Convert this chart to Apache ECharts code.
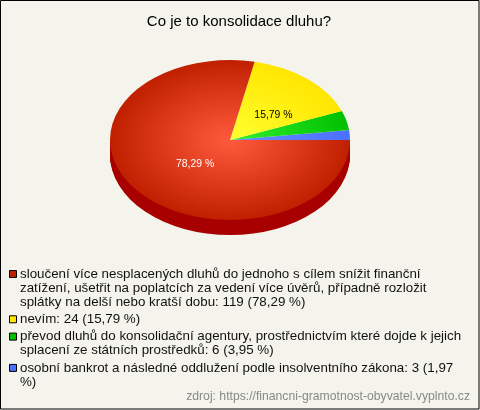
<!DOCTYPE html>
<html><head><meta charset="utf-8">
<style>html,body{margin:0;padding:0;background:#f4f4ec}#c{width:480px;height:410px}</style>
<script src="https://cdn.jsdelivr.net/npm/echarts@6/dist/echarts.min.js"></script>
</head><body><div id="c"></div>
<script>
const titleText = 'Co je to konsolidace dluhu?';
const sourceText = 'zdroj: https://financni-gramotnost-obyvatel.vyplnto.cz';
// drawn counter-clockwise from east
const values = [3, 6, 24, 119];
const percents = ['1,97', '3,95', '15,79', '78,29'];
// legend order
const legendLabels = [
  'sloučení více nesplacených dluhů do jednoho s cílem snížit finanční\nzatížení, ušetřit na poplatcích za vedení více úvěrů, případně rozložit\nsplátky na delší nebo kratší dobu: 119 (78,29 %)',
  'nevím: 24 (15,79 %)',
  'převod dluhů do konsolidační agentury, prostřednictvím které dojde k jejich\nsplacení ze státních prostředků: 6 (3,95 %)',
  'osobní bankrot a následné oddlužení podle insolventního zákona: 3 (1,97\n%)'
];
const legendColors = ['#c02000', '#ffe600', '#00c000', '#4a70ff'];

const inner = ['#6a8cff', '#30f030', '#ffff30', '#ff5a3c'];
const outer = ['#4a70ff', '#00c000', '#ffe600', '#c02000'];
const sideCol = ['#2040c0', '#008000', '#b0a000', '#a80000'];
const labelCol = [null, null, '#000', '#fff'];
const labelFx = [0, 0, 0.56, 0.375];
const labelFy = [0, 0, 0.41, 0.477];
const CX = 230, CY = 140, RX = 120, RY = 80, DEPTH = 15;
const total = values.reduce((a, b) => a + b, 0);

function renderItem(params, api) {
  const i = params.dataIndex;
  let before = 0;
  for (let k = 0; k < i; k++) before += values[k];
  const a0 = before / total * Math.PI * 2;
  const a1 = (before + api.value(0)) / total * Math.PI * 2;
  const sy = RY / RX;
  const children = [];
  const s0 = Math.max(a0, Math.PI), s1 = Math.min(a1, Math.PI * 2);
  if (s1 > s0) {
    for (let d = DEPTH; d >= 1; d--) {
      children.push({
        type: 'sector',
        shape: { cx: CX, cy: CY + d, r: RX, r0: 0, startAngle: -s0, endAngle: -s1, clockwise: false },
        originX: CX, originY: CY + d, scaleY: sy,
        style: { fill: sideCol[i] }
      });
    }
  }
  children.push({
    type: 'sector',
    shape: { cx: CX, cy: CY, r: RX, r0: 0, startAngle: -a0, endAngle: -a1, clockwise: false },
    originX: CX, originY: CY, scaleY: sy,
    style: {
      fill: new echarts.graphic.RadialGradient(CX, CY, RX,
        [{ offset: 0, color: inner[i] }, { offset: 1, color: outer[i] }], true)
    }
  });
  if (labelCol[i]) {
    const m = (a0 + a1) / 2;
    children.push({
      type: 'text', z2: 10,
      x: CX + Math.cos(m) * RX * labelFx[i],
      y: CY - Math.sin(m) * RY * labelFy[i],
      style: {
        text: percents[i] + ' %', fill: labelCol[i],
        font: '10.4px "Liberation Sans", Arial, sans-serif',
        align: 'center', verticalAlign: 'middle'
      }
    });
  }
  return { type: 'group', children };
}

const FONT = '13.35px "Liberation Sans", Arial, sans-serif';
const LINE = 14, GAP = 3.3;
const graphics = [{
  type: 'rect', silent: true, z: -1,
  shape: { x: 0.5, y: 0.5, width: 478.5, height: 408.5 },
  style: { fill: '#f4f4ec', stroke: '#000', lineWidth: 1 }
}];
let ly = 267;
legendLabels.forEach((t, i) => {
  graphics.push({
    type: 'rect', shape: { x: 9.5, y: ly + 3.5, width: 7, height: 7 },
    style: { fill: legendColors[i], stroke: '#000', lineWidth: 1 }
  });
  graphics.push({
    type: 'text', x: 20, y: ly,
    style: { text: t, font: FONT, fill: '#111', lineHeight: LINE, align: 'left', verticalAlign: 'top' }
  });
  ly += t.split('\n').length * LINE + GAP;
});
graphics.push({
  type: 'text', x: 470, y: 397,
  style: { text: sourceText, font: '12.2px "Liberation Sans", Arial, sans-serif', fill: '#888', align: 'right', verticalAlign: 'middle' }
});

const chart = echarts.init(document.getElementById('c'), null, { renderer: 'canvas' });
chart.setOption({
  animation: false,
  backgroundColor: '#f4f4ec',
  title: {
    text: titleText, left: 234, top: 9, textAlign: 'center',
    textStyle: { fontSize: 15, fontWeight: 'normal', color: '#000', fontFamily: '"Liberation Sans", Arial, sans-serif' }
  },
  graphic: graphics,
  series: [{
    type: 'custom', coordinateSystem: 'none', silent: true,
    renderItem, data: values.map(v => [v])
  }]
});
</script></body></html>
